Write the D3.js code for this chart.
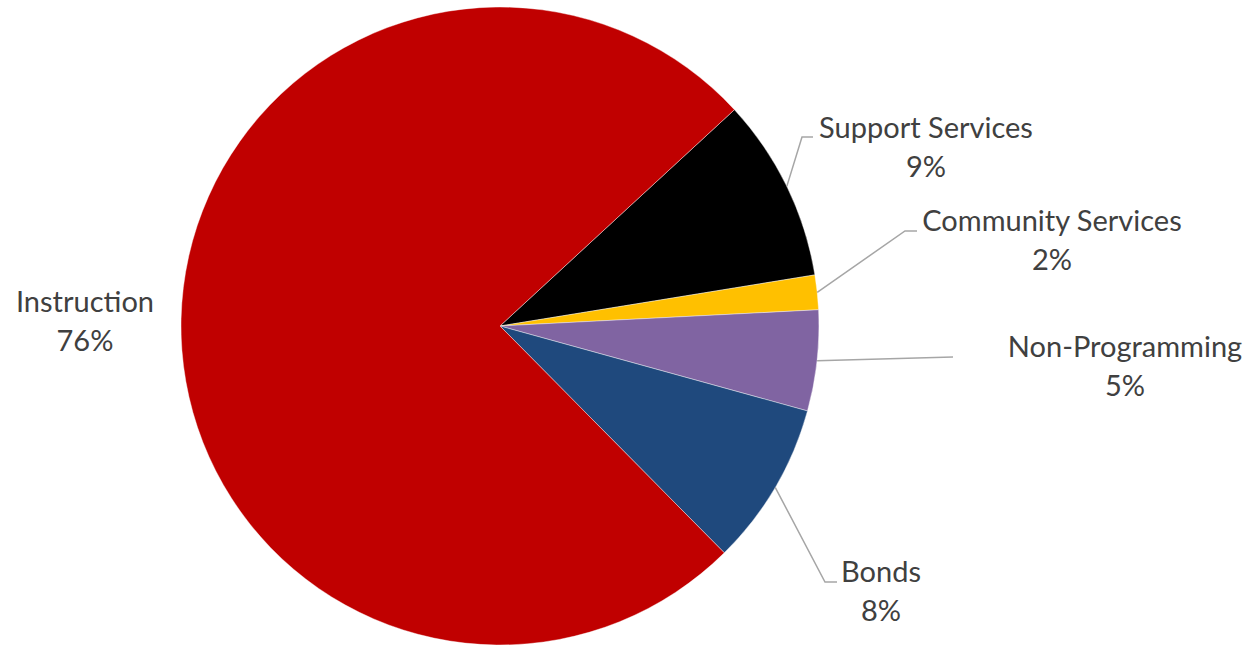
<!DOCTYPE html>
<html>
<head>
<meta charset="utf-8">
<script src="https://cdn.jsdelivr.net/npm/d3@7"></script>
<style>
  html, body { margin: 0; padding: 0; background: #fff; }
  .lbl { font-family: Lato, "Open Sans", sans-serif; font-size: 29px; fill: #404040; }
</style>
</head>
<body>
<svg id="chart" width="1259" height="646"></svg>
<script>
// data
const categories = ['Support Services', 'Community Services', 'Non-Programming', 'Bonds', 'Instruction'];
const values = [9.3, 1.75, 5.1, 8.3, 75.55];
const colors = ['#000000', '#FFC000', '#8064A2', '#1F497D', '#C00000'];

const WIDTH = 1259,
      HEIGHT = 646,
      CX = 500,
      CY = 326,
      RADIUS = 319,
      START = 47.3 * Math.PI / 180;

// label anchors (center x, first baseline) and leader lines: elbow x/y, end x
const labelPos = [[926, 138], [1052, 231], [1125, 357], [881, 582], [85, 312]];
const leaders = [[802, 137, 813], [905, 231, 917], [null, 357, 953], [825, 582, 837], null];

const svg = d3.select('#chart');
const g = svg.append('g').attr('transform', `translate(${CX},${CY})`);

const pie = d3.pie().sort(null).value(d => d).startAngle(START).endAngle(START + 2 * Math.PI);
const arcs = pie(values);
const arc = d3.arc().innerRadius(0).outerRadius(RADIUS);
const total = d3.sum(values);

g.selectAll('path.slice')
  .data(arcs)
  .enter()
  .append('path')
    .attr('class', 'slice')
    .attr('d', arc)
    .attr('fill', (d, i) => colors[i])
    .attr('stroke', '#fff')
    .attr('stroke-width', 0.4);

// leader lines
arcs.forEach((d, i) => {
  const ld = leaders[i];
  if (!ld) return;
  const mid = (d.startAngle + d.endAngle) / 2;
  const sx = CX + RADIUS * Math.sin(mid),
        sy = CY - RADIUS * Math.cos(mid);
  const pts = [[sx, sy]];
  if (ld[0] !== null) pts.push([ld[0], ld[1]]);
  pts.push([ld[2], ld[1]]);
  svg.append('path')
    .attr('d', d3.line()(pts))
    .attr('fill', 'none')
    .attr('stroke', '#A6A6A6')
    .attr('stroke-width', 1.5);
});

// labels
const labels = svg.selectAll('text.lbl')
  .data(arcs)
  .enter()
  .append('text')
    .attr('class', 'lbl')
    .attr('text-anchor', 'middle')
    .attr('x', (d, i) => labelPos[i][0])
    .attr('y', (d, i) => labelPos[i][1]);

labels.append('tspan')
  .attr('x', (d, i) => labelPos[i][0])
  .text((d, i) => categories[i]);
labels.append('tspan')
  .attr('x', (d, i) => labelPos[i][0])
  .attr('dy', 39)
  .text(d => Math.round(d.value / total * 100) + '%');
</script>
</body>
</html>
